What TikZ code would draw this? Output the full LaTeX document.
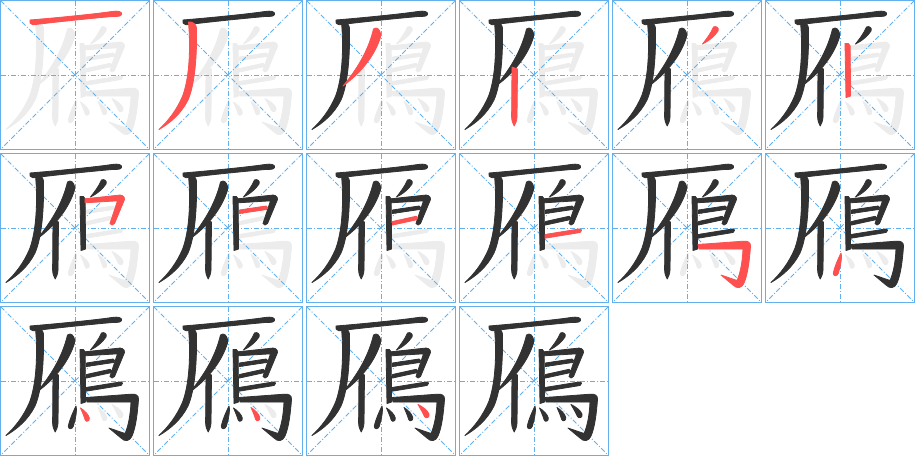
\documentclass[tikz,border=0pt]{standalone}
\usepackage{tikz}

\definecolor{gridblue}{RGB}{98,176,238}
\definecolor{inkdark}{RGB}{50,50,50}
\definecolor{inkred}{RGB}{255,80,80}
\definecolor{inkgray}{RGB}{236,236,236}

% strokes of the character, in the order they are written
\expandafter\def\csname sk1\endcsname{(30,20) .. controls (60,17.5) and (95,14) .. (112,11.5) .. controls (118,10.5) and (122.5,11.5) .. (121.5,14.5) .. controls (121,16.5) and (117,16.5) .. (112,16.5) .. controls (90,18.5) and (60,21.5) .. (33,24.8) .. controls (30.5,25) and (29,22) .. cycle}
\expandafter\def\csname sk2\endcsname{(35.5,22) .. controls (37.5,45) and (37,75) .. (30,95) .. controls (24,110) and (15,121) .. (6,129.5) .. controls (17,123) and (28,114) .. (35,100) .. controls (42,84) and (44,55) .. (43.5,28) .. controls (43,24) and (40,21.5) .. cycle}
\expandafter\def\csname sk3\endcsname{(67.5,29) .. controls (63,48) and (53,67) .. (37,86) .. controls (56,72) and (69,55) .. (74.5,37) .. controls (75.5,33) and (73,28) .. (70,28) .. controls (69,28) and (68,28.3) .. cycle}
\expandafter\def\csname sk4\endcsname{(53,67) -- (58.5,69) -- (58,117) .. controls (57.7,121) and (56.5,124) .. (55.2,126) .. controls (54,124) and (52.8,121) .. (52.6,117) -- cycle}
\expandafter\def\csname sk5\endcsname{(101.5,27) .. controls (104,25.5) and (107.5,28) .. (106,31) .. controls (102,37) and (96.5,41) .. (90.5,44) .. controls (94,39.5) and (98.5,34) .. cycle}
\expandafter\def\csname sk6\endcsname{(80,43.5) .. controls (82,42.5) and (85,43.5) .. (85.2,46) -- (85.5,96) -- (81,97.5) -- cycle}
\expandafter\def\csname sk7\endcsname{(85,45.8) -- (117.5,42.3) .. controls (121,41.3) and (125,43) .. (124.5,46.5) -- (114.5,70.5) .. controls (113.5,72.5) and (110.5,72.5) .. (110,70.5) -- (117.5,47.8) -- (85,49.8) -- cycle}
\expandafter\def\csname sk8\endcsname{(86.5,57) -- (113,53) .. controls (115,52.8) and (115.5,56) .. (113.5,56.5) -- (86.5,60.5) -- cycle}
\expandafter\def\csname sk9\endcsname{(86.5,68.5) -- (110,63.3) .. controls (112,63) and (112.5,66.3) .. (110.5,66.8) -- (86.5,72) -- cycle}
\expandafter\def\csname sk10\endcsname{(86,81.5) -- (120,76) .. controls (123,75.5) and (123.5,79) .. (121,79.5) -- (86,85.2) -- cycle}
\expandafter\def\csname sk11\endcsname{(86,91.5) -- (131,88.2) .. controls (135.5,87.5) and (139,89.5) .. (138.5,93.5) .. controls (137.5,106) and (136,121) .. (132,130) .. controls (129.5,135.5) and (125,136) .. (121,132) -- (109,122) -- (125,127.5) .. controls (128.5,120) and (130.5,108) .. (131,96) -- (87,96) -- cycle}
\expandafter\def\csname sk12\endcsname{(76,100) .. controls (77.5,106) and (74.5,116) .. (73.2,120.5) .. controls (72.2,123.5) and (68,123.5) .. (68.3,120) .. controls (69.5,114) and (73,106) .. cycle}
\expandafter\def\csname sk13\endcsname{(80.5,102) .. controls (84.5,104.5) and (88.5,108.5) .. (89.3,112) .. controls (89.8,115) and (86.3,116.5) .. (85.2,114) .. controls (84,110) and (82.3,106) .. cycle}
\expandafter\def\csname sk14\endcsname{(98,101.5) .. controls (102,104) and (106,108) .. (106.8,111.5) .. controls (107.3,114.5) and (103.8,116) .. (102.7,113.5) .. controls (101.5,109.5) and (99.8,105.5) .. cycle}
\expandafter\def\csname sk15\endcsname{(112,98.5) .. controls (116.5,100.5) and (121.5,104.5) .. (123,108) .. controls (124,111.5) and (120,113) .. (118.5,110.5) .. controls (116.5,106) and (114,102) .. cycle}
\newcommand{\skpath}[1]{\csname sk#1\endcsname}

\begin{document}
\begin{tikzpicture}[x=1pt, y=-1pt,
	box/.style={draw=gridblue, line width=1.2pt},
	guide/.style={draw=gridblue, line width=0.8pt, dash pattern=on 5pt off 2pt on 1pt off 2pt},
	ink/.style={fill=#1, draw=#1, line width=0.8pt, line join=round}]
	\useasboundingbox (0,0) rectangle (915,456);
	\foreach \k in {1,...,16} {
		\pgfmathtruncatemacro{\col}{mod(\k-1,6)}
		\pgfmathtruncatemacro{\row}{(\k-1)/6}
		\begin{scope}[shift={(153*\col,153*\row)}]
			% whole character in grey
			\foreach \s in {1,...,15} {\path [ink=inkgray] \skpath{\s};}
			\draw [guide] (0.75,75) -- (149.25,75);
			\draw [guide] (75,0.75) -- (75,149.25);
			\draw [guide] (0.75,0.75) -- (149.25,149.25);
			\draw [guide] (149.25,0.75) -- (0.75,149.25);
			% strokes written so far, the newest one in red
			\foreach \s in {1,...,\k} {
				\ifnum\s<16
					\ifnum\s<\k \def\inkc{inkdark}\else \def\inkc{inkred}\fi
					\path [ink=\inkc] \skpath{\s};
				\fi
			}
			\draw [box] (0.75,0.75) rectangle (149.25,149.25);
		\end{scope}
	}
\end{tikzpicture}
\end{document}
